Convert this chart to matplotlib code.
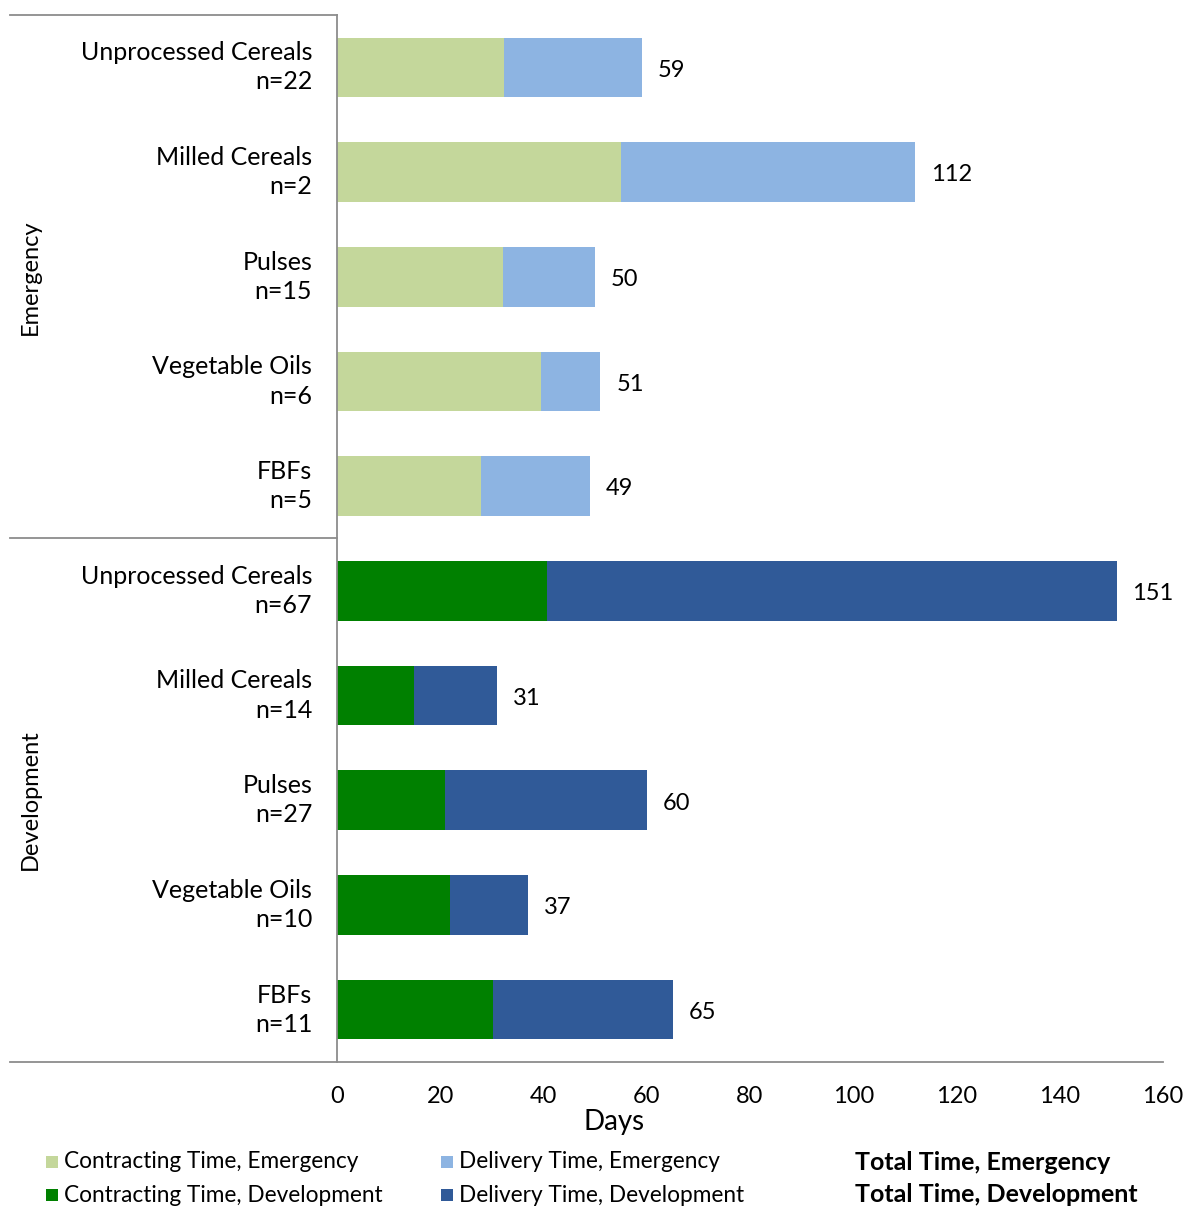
import matplotlib
matplotlib.use("Agg")
import matplotlib.pyplot as plt
from matplotlib.patches import Rectangle
from matplotlib.lines import Line2D

plt.rcParams['font.family'] = ['Lato', 'DejaVu Sans']

categories = ["Unprocessed Cereals\nn=22", "Milled Cereals\nn=2", "Pulses\nn=15",
              "Vegetable Oils\nn=6", "FBFs\nn=5",
              "Unprocessed Cereals\nn=67", "Milled Cereals\nn=14", "Pulses\nn=27",
              "Vegetable Oils\nn=10", "FBFs\nn=11"]
contracting = [32.3, 55.0, 32.2, 39.5, 27.9, 40.7, 14.9, 20.9, 21.9, 30.2]
total = [59, 112, 50, 51, 49, 151, 31, 60, 37, 65]
groups = ["Emergency", "Development"]
xticks = [0, 20, 40, 60, 80, 100, 120, 140, 160]

c_contract = ["#C4D79B"] * 5 + ["#008000"] * 5
c_delivery = ["#8DB4E2"] * 5 + ["#305A98"] * 5

W, H = 1185, 1207
fig = plt.figure(figsize=(W / 100, H / 100), dpi=100)
ax = fig.add_axes([337 / W, 1 - 1062 / H, (1163 - 337) / W, (1062 - 15) / H])

y = list(range(len(categories)))
delivery = [t - c for t, c in zip(total, contracting)]
ax.barh(y, contracting, height=0.57, color=c_contract, linewidth=0)
ax.barh(y, delivery, left=contracting, height=0.57, color=c_delivery, linewidth=0)

for yi, t in zip(y, total):
    ax.annotate(str(t), (t, yi), xytext=(11.5, -2), textcoords="offset points",
                va="center", ha="left", fontsize=17, color="black")

ax.set_ylim(len(categories) - 0.5, -0.5)
ax.set_xlim(0, 160)
ax.set_xticks(xticks)
ax.set_xticklabels([str(v) for v in xticks], fontsize=17)
ax.set_yticks([])
ax.tick_params(axis="x", length=0, pad=17)
for s in ["top", "right", "bottom"]:
    ax.spines[s].set_visible(False)
ax.spines["left"].set_color("#8c8c8c")
ax.spines["left"].set_linewidth(1.3)

# category labels, right-aligned next to the axis
for yi, lab in zip(y, categories):
    ax.text(-4.8, yi, lab, ha="right", va="center", fontsize=18,
            linespacing=1.33, transform=ax.transData)

# frame lines around the category area
line_kw = dict(color="#8c8c8c", linewidth=1.3, transform=fig.transFigure)
fig.add_artist(Line2D([10 / W, 337 / W], [1 - 15 / H, 1 - 15 / H], **line_kw))
fig.add_artist(Line2D([10 / W, 337 / W], [1 - 538 / H, 1 - 538 / H], **line_kw))
fig.add_artist(Line2D([10 / W, 1163 / W], [1 - 1062 / H, 1 - 1062 / H], **line_kw))

# group labels
fig.text(30 / W, 1 - 277 / H, groups[0], rotation=90, ha="center", va="center", fontsize=17)
fig.text(30 / W, 1 - 800 / H, groups[1], rotation=90, ha="center", va="center", fontsize=17)

fig.text(614 / W, 1 - 1122 / H, "Days", ha="center", va="center", fontsize=20)

# legend
legend_items = [
    (46, 1162, "#C4D79B", "Contracting Time, Emergency", False),
    (441, 1162, "#8DB4E2", "Delivery Time, Emergency", False),
    (855, 1162, None, "Total Time, Emergency", True),
    (46, 1195, "#008000", "Contracting Time, Development", False),
    (441, 1195, "#305A98", "Delivery Time, Development", False),
    (855, 1195, None, "Total Time, Development", True),
]
for lx, ly, col, txt, bold in legend_items:
    if col is not None:
        fig.add_artist(Rectangle((lx / W, 1 - (ly + 6) / H), 12 / W, 12 / H,
                                 color=col, transform=fig.transFigure, linewidth=0))
        fig.text((lx + 18) / W, 1 - ly / H, txt, ha="left", va="center", fontsize=16.3)
    else:
        fig.text(lx / W, 1 - ly / H, txt, ha="left", va="center", fontsize=18,
                 fontweight="bold")

fig.savefig("out.png", dpi=100)
